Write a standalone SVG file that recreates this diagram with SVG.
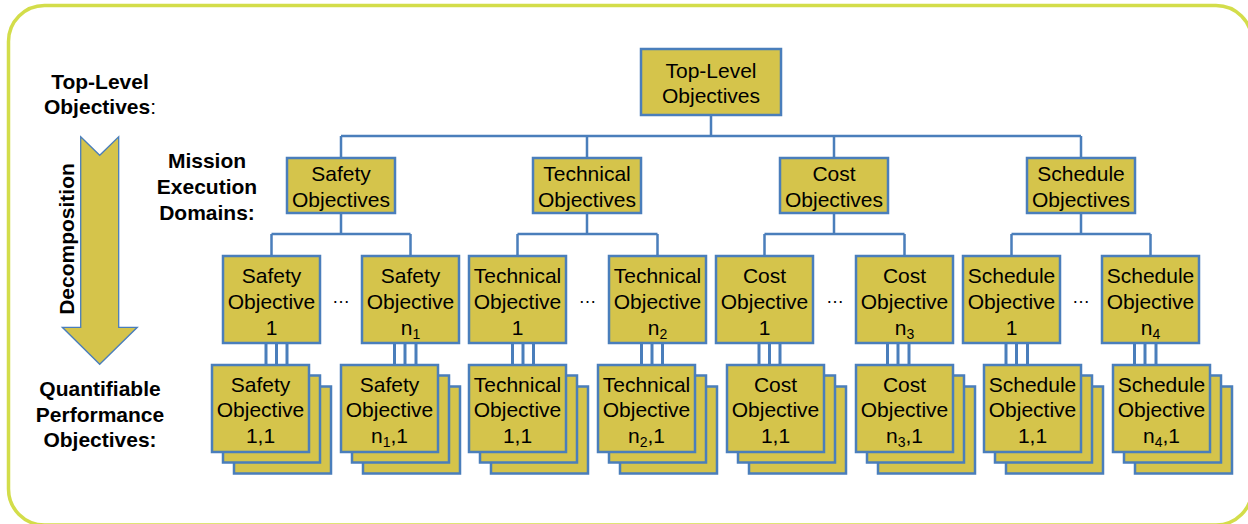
<svg xmlns="http://www.w3.org/2000/svg" width="1248" height="524" viewBox="0 0 1248 524">
<defs>
<style>
.bg{fill:#ffffff}
.frame{fill:none;stroke:#d3dd4a;stroke-width:3.5}
.b{fill:#d5c44b;stroke:#4a7ebb;stroke-width:2.5}
.c{fill:none;stroke:#4a7ebb;stroke-width:2.5}
.tr{fill:none;stroke:#4a7ebb;stroke-width:3}
.t{font-family:"Liberation Sans",Arial,sans-serif;font-size:21px;text-anchor:middle;fill:#000}
.lb{font-family:"Liberation Sans",Arial,sans-serif;font-size:21px;font-weight:bold;text-anchor:middle;fill:#000}
.sub{font-size:14px}
.dots{font-family:"Liberation Sans",Arial,sans-serif;font-size:18px;text-anchor:middle;fill:#000}
.arrow{fill:#d5c44b;stroke:#4a7ebb;stroke-width:1.3}
</style>
</defs>
<rect class="bg" x="0" y="0" width="1248" height="524"/>
<rect class="frame" x="8.5" y="5.5" width="1243.5" height="519.5" rx="36" ry="36"/>

<g id="side-labels">
<text class="lb" x="100" y="88.5">Top-Level</text>
<text class="lb" x="100" y="114">Objectives<tspan font-weight="normal">:</tspan></text>
<text class="lb" x="207" y="167.5">Mission</text>
<text class="lb" x="207" y="194">Execution</text>
<text class="lb" x="207" y="220">Domains:</text>
<text class="lb" x="100" y="396">Quantifiable</text>
<text class="lb" x="100" y="421.5">Performance</text>
<text class="lb" x="100" y="447">Objectives:</text>
</g>

<g id="decomposition-arrow">
<path class="arrow" d="M80.7,136.7 L99.7,155.3 L118.7,136.7 L118.7,327.3 L137.3,327.3 L99.7,364.3 L62.3,327.3 L80.7,327.3 Z"/>
<text class="lb" transform="translate(73.5,239) rotate(-90)" x="0" y="0">Decomposition</text>
</g>

<g id="connectors">
<path class="c" d="M711,115 V136 M341,136 H1081 M341,136 V158 M587,136 V158 M834,136 V158 M1081,136 V158"/>
<path class="c" d="M341,213 V234 M271.5,234 H410.5 M271.5,234 V256 M410.5,234 V256"/>
<path class="c" d="M587,213 V234 M517.5,234 H657.5 M517.5,234 V256 M657.5,234 V256"/>
<path class="c" d="M834,213 V234 M764.5,234 H904.5 M764.5,234 V256 M904.5,234 V256"/>
<path class="c" d="M1081,213 V234 M1011.5,234 H1150.5 M1011.5,234 V256 M1150.5,234 V256"/>
<path class="tr" d="M266,343 V366 M276.5,343 V376 M287,343 V387"/>
<path class="tr" d="M394.5,343 V366 M405,343 V376 M416,343 V387"/>
<path class="tr" d="M512.5,343 V366 M523,343 V376 M533.5,343 V387"/>
<path class="tr" d="M641.5,343 V366 M652,343 V376 M662.5,343 V387"/>
<path class="tr" d="M759,343 V366 M769.5,343 V376 M780,343 V387"/>
<path class="tr" d="M887.5,343 V366 M898,343 V376 M909,343 V387"/>
<path class="tr" d="M1006,343 V366 M1016.5,343 V376 M1027.5,343 V387"/>
<path class="tr" d="M1134.5,343 V366 M1145,343 V376 M1156,343 V387"/>
</g>

<g id="top">
<rect class="b" x="641" y="49" width="140" height="66"/>
<text class="t" x="711" y="78">Top-Level</text>
<text class="t" x="711" y="103">Objectives</text>
</g>

<g id="safety">
<rect class="b" x="287" y="158" width="108" height="55"/>
<text class="t" x="341" y="181">Safety</text>
<text class="t" x="341" y="206.5">Objectives</text>
</g>
<g id="technical">
<rect class="b" x="533" y="158" width="108" height="55"/>
<text class="t" x="587" y="181">Technical</text>
<text class="t" x="587" y="206.5">Objectives</text>
</g>
<g id="cost">
<rect class="b" x="780" y="158" width="108" height="55"/>
<text class="t" x="834" y="181">Cost</text>
<text class="t" x="834" y="206.5">Objectives</text>
</g>
<g id="schedule">
<rect class="b" x="1027" y="158" width="108" height="55"/>
<text class="t" x="1081" y="181">Schedule</text>
<text class="t" x="1081" y="206.5">Objectives</text>
</g>

<g id="safety-1">
<rect class="b" x="223" y="256" width="97" height="87"/>
<text class="t" x="271.5" y="282.5">Safety</text>
<text class="t" x="271.5" y="308.5">Objective</text>
<text class="t" x="271.5" y="334.5">1</text>
</g>
<g id="safety-n">
<rect class="b" x="362" y="256" width="97" height="87"/>
<text class="t" x="410.5" y="282.5">Safety</text>
<text class="t" x="410.5" y="308.5">Objective</text>
<text class="t" x="410.5" y="334.5">n<tspan class="sub" dy="4">1</tspan></text>
</g>
<g id="technical-1">
<rect class="b" x="469" y="256" width="97" height="87"/>
<text class="t" x="517.5" y="282.5">Technical</text>
<text class="t" x="517.5" y="308.5">Objective</text>
<text class="t" x="517.5" y="334.5">1</text>
</g>
<g id="technical-n">
<rect class="b" x="609" y="256" width="97" height="87"/>
<text class="t" x="657.5" y="282.5">Technical</text>
<text class="t" x="657.5" y="308.5">Objective</text>
<text class="t" x="657.5" y="334.5">n<tspan class="sub" dy="4">2</tspan></text>
</g>
<g id="cost-1">
<rect class="b" x="716" y="256" width="97" height="87"/>
<text class="t" x="764.5" y="282.5">Cost</text>
<text class="t" x="764.5" y="308.5">Objective</text>
<text class="t" x="764.5" y="334.5">1</text>
</g>
<g id="cost-n">
<rect class="b" x="856" y="256" width="97" height="87"/>
<text class="t" x="904.5" y="282.5">Cost</text>
<text class="t" x="904.5" y="308.5">Objective</text>
<text class="t" x="904.5" y="334.5">n<tspan class="sub" dy="4">3</tspan></text>
</g>
<g id="schedule-1">
<rect class="b" x="963" y="256" width="97" height="87"/>
<text class="t" x="1011.5" y="282.5">Schedule</text>
<text class="t" x="1011.5" y="308.5">Objective</text>
<text class="t" x="1011.5" y="334.5">1</text>
</g>
<g id="schedule-n">
<rect class="b" x="1102" y="256" width="97" height="87"/>
<text class="t" x="1150.5" y="282.5">Schedule</text>
<text class="t" x="1150.5" y="308.5">Objective</text>
<text class="t" x="1150.5" y="334.5">n<tspan class="sub" dy="4">4</tspan></text>
</g>

<g id="ellipses">
<text class="dots" x="341" y="303">…</text>
<text class="dots" x="587.5" y="303">…</text>
<text class="dots" x="835" y="303">…</text>
<text class="dots" x="1081" y="303">…</text>
</g>

<g id="safety-1-1">
<rect class="b" x="234" y="386.5" width="97" height="87"/>
<rect class="b" x="223" y="375.5" width="97" height="87"/>
<rect class="b" x="212" y="365" width="97" height="87"/>
<text class="t" x="260.5" y="391.5">Safety</text>
<text class="t" x="260.5" y="417">Objective</text>
<text class="t" x="260.5" y="442.5">1,1</text>
</g>
<g id="safety-n-1">
<rect class="b" x="363" y="386.5" width="97" height="87"/>
<rect class="b" x="352" y="375.5" width="97" height="87"/>
<rect class="b" x="341" y="365" width="97" height="87"/>
<text class="t" x="389.5" y="391.5">Safety</text>
<text class="t" x="389.5" y="417">Objective</text>
<text class="t" x="389.5" y="442.5">n<tspan class="sub" dy="4">1</tspan><tspan dy="-4">,1</tspan></text>
</g>
<g id="technical-1-1">
<rect class="b" x="491" y="386.5" width="97" height="87"/>
<rect class="b" x="480" y="375.5" width="97" height="87"/>
<rect class="b" x="469" y="365" width="97" height="87"/>
<text class="t" x="517.5" y="391.5">Technical</text>
<text class="t" x="517.5" y="417">Objective</text>
<text class="t" x="517.5" y="442.5">1,1</text>
</g>
<g id="technical-n-1">
<rect class="b" x="620" y="386.5" width="97" height="87"/>
<rect class="b" x="609" y="375.5" width="97" height="87"/>
<rect class="b" x="598" y="365" width="97" height="87"/>
<text class="t" x="646.5" y="391.5">Technical</text>
<text class="t" x="646.5" y="417">Objective</text>
<text class="t" x="646.5" y="442.5">n<tspan class="sub" dy="4">2</tspan><tspan dy="-4">,1</tspan></text>
</g>
<g id="cost-1-1">
<rect class="b" x="749" y="386.5" width="97" height="87"/>
<rect class="b" x="738" y="375.5" width="97" height="87"/>
<rect class="b" x="727" y="365" width="97" height="87"/>
<text class="t" x="775.5" y="391.5">Cost</text>
<text class="t" x="775.5" y="417">Objective</text>
<text class="t" x="775.5" y="442.5">1,1</text>
</g>
<g id="cost-n-1">
<rect class="b" x="878" y="386.5" width="97" height="87"/>
<rect class="b" x="867" y="375.5" width="97" height="87"/>
<rect class="b" x="856" y="365" width="97" height="87"/>
<text class="t" x="904.5" y="391.5">Cost</text>
<text class="t" x="904.5" y="417">Objective</text>
<text class="t" x="904.5" y="442.5">n<tspan class="sub" dy="4">3</tspan><tspan dy="-4">,1</tspan></text>
</g>
<g id="schedule-1-1">
<rect class="b" x="1006" y="386.5" width="97" height="87"/>
<rect class="b" x="995" y="375.5" width="97" height="87"/>
<rect class="b" x="984" y="365" width="97" height="87"/>
<text class="t" x="1032.5" y="391.5">Schedule</text>
<text class="t" x="1032.5" y="417">Objective</text>
<text class="t" x="1032.5" y="442.5">1,1</text>
</g>
<g id="schedule-n-1">
<rect class="b" x="1135" y="386.5" width="97" height="87"/>
<rect class="b" x="1124" y="375.5" width="97" height="87"/>
<rect class="b" x="1113" y="365" width="97" height="87"/>
<text class="t" x="1161.5" y="391.5">Schedule</text>
<text class="t" x="1161.5" y="417">Objective</text>
<text class="t" x="1161.5" y="442.5">n<tspan class="sub" dy="4">4</tspan><tspan dy="-4">,1</tspan></text>
</g>
</svg>
